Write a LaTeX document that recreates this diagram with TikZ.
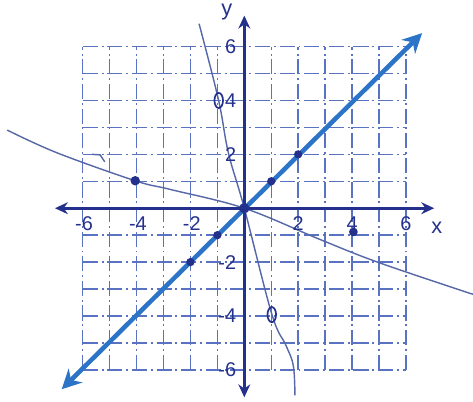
\documentclass[tikz,border=0pt]{standalone}
\usepackage{fontspec}
\setmainfont{Liberation Sans}
\usepackage{tikz}
\usetikzlibrary{arrows.meta,positioning,shapes.geometric}
\definecolor{navy}{HTML}{24318C}
\definecolor{gridblue}{HTML}{5A72C2}
\definecolor{lineblue}{HTML}{2C74C8}
\definecolor{pencil}{HTML}{5668A8}

\begin{document}
\begin{tikzpicture}[x=0.5cm,y=0.5cm,
  gridline/.style={draw=gridblue,line width=0.75pt,dash pattern=on 8pt off 2pt on 1pt off 2pt},
  axis/.style={draw=navy,line width=1.5pt,-{Stealth[length=2.4mm,width=2.2mm]}},
  graph/.style={draw=lineblue,line width=2.4pt,{Stealth[length=3.6mm,width=3.6mm]}-{Stealth[length=3.6mm,width=3.6mm]}},
  sketch/.style={draw=pencil,line width=0.75pt},
  dot/.style={circle,fill=navy,inner sep=0pt,minimum size=4.4pt},
  ring/.style={ellipse,draw=navy,line width=0.9pt,inner sep=0pt,minimum width=4.5pt,minimum height=8pt},
  tick/.style={font=\fontsize{10.5}{12}\selectfont,text=navy,inner sep=1pt},
  axlab/.style={font=\fontsize{11.5}{13}\selectfont,text=navy,inner sep=1pt}
]
  \useasboundingbox (-9.07,-7.16) rectangle (8.49,7.73);

  % grid
  \draw[gridline,step=0.5cm] (-6,-6) grid (6,6);

  % pencil sketches
  \draw[sketch] plot[smooth,tension=0.6] coordinates {(-8.8,2.9) (-6.96,2.06) (-4.05,1.02) (-2.76,0.7) (0,0) (2.81,-1.16) (5,-2.02) (8.5,-3.2)};
  \draw[sketch] plot[smooth,tension=0.6] coordinates {(-1.68,6.85) (-0.96,4.03) (-0.59,2.05) (0,0) (1.02,-3.93) (1.55,-5.1) (1.82,-5.85) (1.88,-6.95)};
  \draw[sketch] (-5.65,2.0) -- (-5.35,1.98) -- (-5.18,1.72);

  % axes
  \coordinate (xl) at (-7.03,0);
  \coordinate (xr) at (7.05,0);
  \coordinate (yb) at (0,-7.02);
  \coordinate (yt) at (0,7.15);
  \draw[axis] (0,0) -- (xr);
  \draw[axis] (0,0) -- (xl);
  \draw[axis] (0,0) -- (yt);
  \draw[axis] (0,0) -- (yb);
  \node[axlab] (ylab) at (-0.65,7.3) {y};
  \node[axlab] (xlab) at (7.15,-0.72) {x};

  % tick labels
  \node[tick,anchor=north] (xm6) at (-5.95,-0.22) {-6};
  \node[tick,anchor=north] (xm4) at (-3.95,-0.22) {-4};
  \node[tick,anchor=north] (xm2) at (-1.95,-0.22) {-2};
  \node[tick,anchor=north] (xp2) at (2,-0.22) {2};
  \node[tick,anchor=north] (xp4) at (4,-0.22) {4};
  \node[tick,anchor=north] (xp6) at (6,-0.22) {6};
  \node[tick,anchor=east] (yp6) at (-0.22,6) {6};
  \node[tick,anchor=east] (yp4) at (-0.22,4) {4};
  \node[tick,anchor=east] (yp2) at (-0.22,2) {2};
  \node[tick,anchor=east] (ym2) at (-0.22,-2) {-2};
  \node[tick,anchor=east] (ym4) at (-0.22,-4) {-4};
  \node[tick,anchor=east] (ym6) at (-0.22,-6) {-6};

  % graph of y = x
  \coordinate (lo) at (-6.78,-6.72);
  \coordinate (hi) at (6.6,6.5);
  \draw[graph] (lo) -- (hi);

  % plotted points
  \node[dot,minimum size=5.5pt] (o) at (0,0) {};
  \node[dot] (p1) at (1,1) {};
  \node[dot] (p2) at (2,2) {};
  \node[dot] (m1) at (-1,-1) {};
  \node[dot] (m2) at (-2,-2) {};
  \node[dot,minimum size=5pt] (q1) at (-4.05,1.02) {};
  \node[dot,minimum size=4.6pt] (q2) at (4.05,-0.88) {};
  \node[ring] (r1) at (-0.95,4.0) {};
  \node[ring] (r2) at (1.02,-3.95) {};
\end{tikzpicture}
\end{document}
